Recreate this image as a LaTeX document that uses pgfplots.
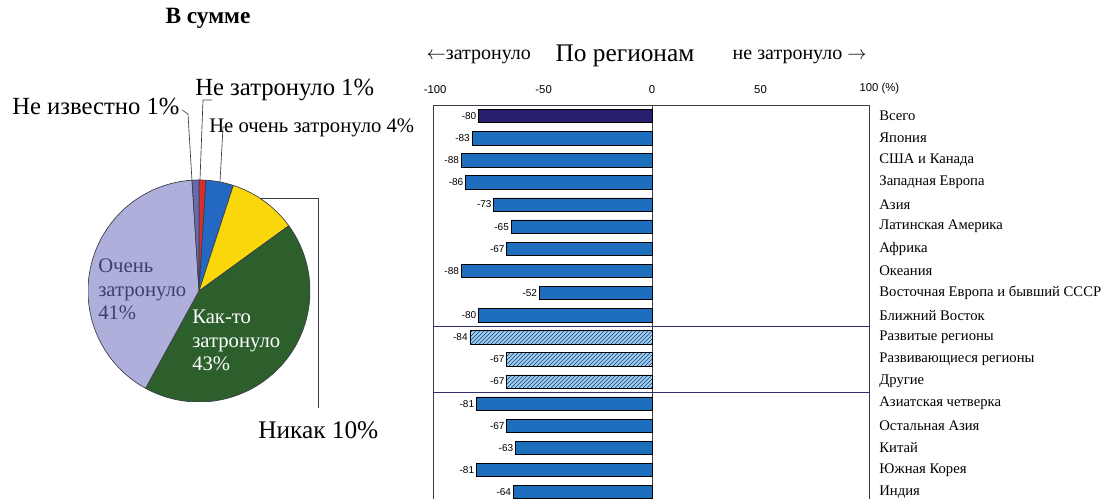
\documentclass[border=0pt]{standalone}
\usepackage{fontspec}
\setmainfont{Liberation Serif}
\newfontfamily\arial{Liberation Sans}
\usepackage{pgfplots}
\pgfplotsset{compat=1.18}
\usetikzlibrary{patterns}

\definecolor{pRed}{RGB}{220,45,45}
\definecolor{pBlue}{RGB}{35,105,195}
\definecolor{pYellow}{RGB}{250,215,10}
\definecolor{pGreen}{RGB}{45,95,45}
\definecolor{pLav}{RGB}{175,175,220}
\definecolor{pSlate}{RGB}{105,105,175}
\definecolor{barNavy}{RGB}{40,30,110}
\definecolor{barBlue}{RGB}{30,110,190}
\definecolor{hatchBg}{RGB}{160,205,240}
\definecolor{lineGrey}{RGB}{60,60,70}

% pie: share / colour, clockwise from 12 o'clock
\def\piedata{1/pRed,4/pBlue,10/pYellow,43/pGreen,41/pLav,1/pSlate}

\begin{document}
\begin{tikzpicture}[x=0.75pt,y=0.75pt]
\useasboundingbox (0,0) rectangle (1108,499);

% ---------- pie ----------
\begin{axis}[
    at={(149.25pt,156pt)}, anchor=center,
    width=166.5pt, height=166.5pt, scale only axis,
    hide axis, xmin=-1, xmax=1, ymin=-1, ymax=1,
]
\pgfplotsextra{
  \xdef\cum{0}
  \foreach \v/\c in \piedata {
    \pgfmathsetmacro\sa{90-3.6*\cum}
    \pgfmathsetmacro\ea{\sa-3.6*\v}
    \fill[\c, draw=lineGrey, line width=0.5pt]
      (axis cs:0,0) -- ++(\sa:83.25pt) arc[start angle=\sa, end angle=\ea, radius=83.25pt] -- cycle;
    \pgfmathsetmacro\newcum{\cum+\v}
    \xdef\cum{\newcum}
  }
}
\end{axis}

\node[font=\bfseries\fontsize{17.5}{20}\selectfont] at (208,481) {В сумме};

\node[anchor=west, font=\fontsize{18.5}{21}\selectfont, inner sep=0pt] at (12,393) {Не известно 1\%};
\node[anchor=west, font=\fontsize{18.5}{21}\selectfont, inner sep=0pt] at (195,409) {Не затронуло 1\%};
\node[anchor=west, font=\fontsize{15.5}{18}\selectfont, inner sep=0pt] at (209,371) {Не очень затронуло 4\%};
\node[anchor=west, font=\fontsize{19}{22}\selectfont, inner sep=0pt] at (258,69) {Никак 10\%};
\node[anchor=north west, align=left, inner sep=0pt, text=pSlate!60!black,
      font=\fontsize{15.5}{17.5}\selectfont] at (98,240) {Очень\\затронуло\\41\%};
\node[anchor=north west, align=left, inner sep=0pt, text=white,
      font=\fontsize{15.5}{17.5}\selectfont] at (192,189) {Как-то\\затронуло\\43\%};

\draw[lineGrey, line width=0.5pt] (182,389) -- (188,385) -- (192,318);
\draw[lineGrey, line width=0.5pt] (212,399) -- (203,399) -- (200,319);
\draw[lineGrey, line width=0.5pt] (232,372) -- (223,372) -- (220,317);
\draw[lineGrey, line width=0.5pt] (260,301) -- (318,301) -- (318,91);

% ---------- bars ----------
\node[anchor=west, font=\fontsize{15}{17}\selectfont] at (422,442) {$\leftarrow$затронуло};
\node[font=\fontsize{19}{22}\selectfont] at (625,443) {По регионам};
\node[anchor=west, font=\fontsize{15}{17}\selectfont] at (728,442) {не затронуло $\rightarrow$};

\begin{axis}[
    at={(324.75pt,295.5pt)}, anchor=north west,
    width=327pt, height=298.6pt, scale only axis,
    xbar, bar width=10pt, bar shift=0pt,
    xmin=-101, xmax=100, ymin=-0.5, ymax=17.5, y dir=reverse,
    /pgf/number format/assume math mode=true,
    xtick={-100,-50,0,50,100},
    xticklabels={-100,-50,0,50,100\rlap{ (\%)}},
    xticklabel pos=upper,
    xticklabel style={font=\arial\fontsize{8.5}{10}\selectfont, yshift=5pt},
    ytick={0,...,17},
    yticklabels={Всего,Япония,США и Канада,Западная Европа,Азия,Латинская Америка,Африка,Океания,Восточная Европа и бывший СССР,Ближний Восток,Развитые регионы,Развивающиеся регионы,Другие,Азиатская четверка,Остальная Азия,Китай,Южная Корея,Индия},
    yticklabel pos=right,
    yticklabel style={font=\fontsize{11}{13}\selectfont, anchor=west},
    tick style={draw=none},
    axis line style={lineGrey, line width=0.6pt},
    extra x ticks={0}, extra x tick labels={},
    extra x tick style={grid=major, major grid style={lineGrey, line width=0.8pt}},
    extra y ticks={9.5,12.5}, extra y tick labels={},
    extra y tick style={grid=major, major grid style={lineGrey!80!blue, line width=0.6pt}},
    nodes near coords, point meta=x,
    nodes near coords style={anchor=east, font=\arial\fontsize{7.5}{9}\selectfont, inner sep=1.5pt},
]
\addplot[fill=barNavy, draw=black] coordinates {(-80,0)};
\addplot[fill=barBlue, draw=black] coordinates {
  (-83,1) (-88,2) (-86,3) (-73,4) (-65,5) (-67,6) (-88,7) (-52,8) (-80,9)
  (-81,13) (-67,14) (-63,15) (-81,16) (-64,17)};
\addplot[fill=hatchBg, draw=black,
  postaction={pattern=north east lines, pattern color=barBlue!60!black}]
  coordinates {(-84,10) (-67,11) (-67,12)};
\end{axis}
\end{tikzpicture}
\end{document}
